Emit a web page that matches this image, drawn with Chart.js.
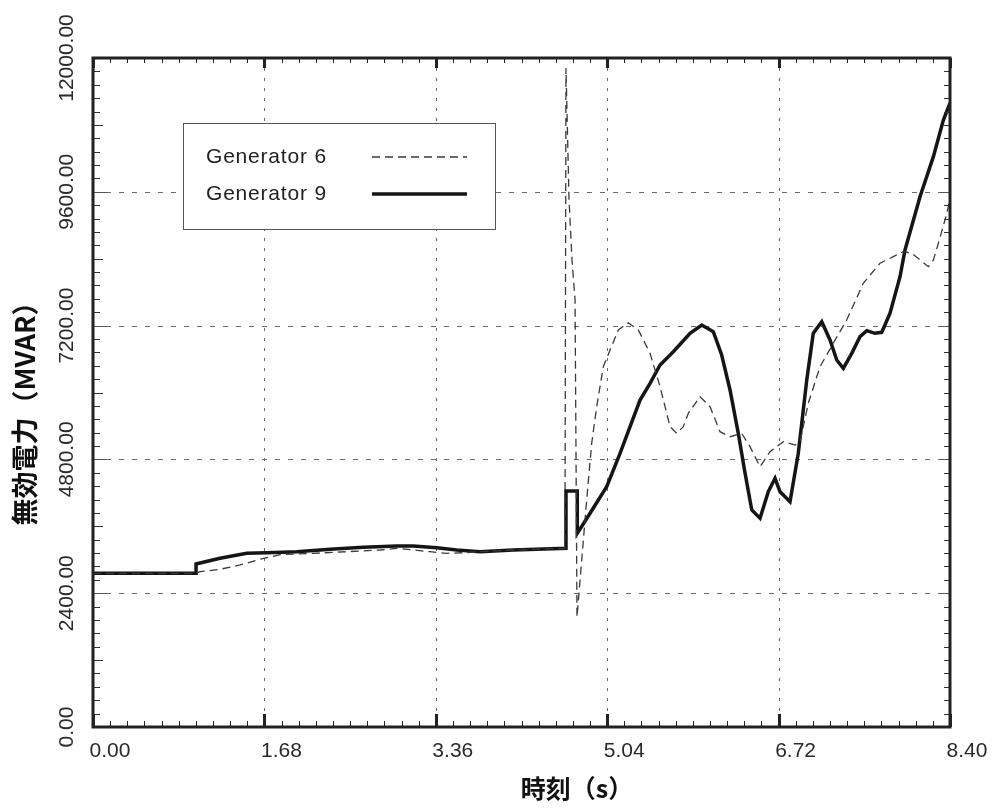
<!DOCTYPE html>
<html>
<head>
<meta charset="utf-8">
<script src="https://cdn.jsdelivr.net/npm/chart.js@4.4.1/dist/chart.umd.min.js"></script>
<style>
  html, body { margin: 0; padding: 0; background: #fff; }
  #wrap { width: 996px; height: 809px; }
</style>
</head>
<body>
<div id="wrap"><canvas id="chartQ" width="996" height="809"></canvas></div>
<script>
// 無効電力 - 読み取り値 (時刻 s, MVAR)
const seriesNames = ['Generator 6', 'Generator 9'];

const gen6Time = [0, 1.01, 1.049, 1.245, 1.441, 1.637, 1.833, 2.159, 2.487, 2.813,
  2.977, 3.140, 3.303, 3.467, 3.630, 3.793, 4.120, 4.626, 4.636, 4.666,
  4.695, 4.725, 4.744, 4.839, 4.888, 4.937, 5.002, 5.068, 5.149, 5.247,
  5.345, 5.460, 5.558, 5.656, 5.721, 5.786, 5.835, 5.950, 6.048, 6.146,
  6.244, 6.358, 6.440, 6.538, 6.636, 6.766, 6.881, 6.930, 7.011, 7.126,
  7.256, 7.387, 7.550, 7.714, 7.942, 8.025, 8.106, 8.188, 8.237, 8.286,
  8.351, 8.384, 8.400];
const gen6Mvar = [2757, 2757, 2786, 2829, 2906, 3008, 3091, 3116, 3144, 3175,
  3205, 3175, 3144, 3116, 3126, 3144, 3175, 3205, 11821, 9453,
  8377, 7659, 1973, 4072, 5089, 5745, 6463, 6762, 7121, 7252,
  7121, 6703, 6104, 5387, 5268, 5387, 5627, 5925, 5745, 5297,
  5207, 5268, 5028, 4669, 4938, 5118, 5058, 5118, 5806, 6463,
  6883, 7300, 7959, 8318, 8526, 8497, 8377, 8257, 8377, 8677,
  9094, 9333, 9512];

const gen9Time = [0, 1.01, 1.01, 1.245, 1.507, 1.703, 1.997, 2.323, 2.650, 2.977,
  3.140, 3.369, 3.565, 3.793, 4.120, 4.636, 4.636, 4.747, 4.747, 4.872,
  5.035, 5.166, 5.264, 5.362, 5.460, 5.558, 5.688, 5.852, 5.967, 6.080,
  6.162, 6.244, 6.325, 6.391, 6.457, 6.538, 6.619, 6.685, 6.734, 6.832,
  6.913, 6.996, 7.060, 7.143, 7.224, 7.290, 7.354, 7.437, 7.518, 7.584,
  7.665, 7.731, 7.812, 7.910, 7.959, 8.106, 8.237, 8.335, 8.400];
const gen9Mvar = [2757, 2757, 2924, 3026, 3116, 3126, 3144, 3187, 3223, 3247,
  3247, 3216, 3175, 3144, 3175, 3205, 4233, 4233, 3474, 3833,
  4310, 4909, 5387, 5865, 6165, 6493, 6732, 7062, 7211, 7091,
  6673, 6045, 5268, 4556, 3892, 3744, 4221, 4461, 4221, 4041,
  4909, 6224, 7062, 7270, 6942, 6583, 6434, 6703, 7001, 7109,
  7062, 7080, 7421, 8077, 8556, 9512, 10230, 10888, 11188];

const xTickValues = [0, 1.68, 3.36, 5.04, 6.72, 8.40];
const yTickValues = [0, 2400, 4800, 7200, 9600, 12000];
const xTitle = '時刻（s）';
const yTitle = '無効電力（MVAR）';

function toPoints(ts, vs) {
  return ts.map((t, i) => ({ x: t, y: vs[i] }));
}

// 枠・目盛・グリッド・凡例は自前で描く
const framePlugin = {
  id: 'frame',
  beforeDatasetsDraw(chart) {
    const { ctx, chartArea: a, scales: { x, y } } = chart;
    ctx.save();
    ctx.strokeStyle = '#6a6a6a';
    ctx.lineWidth = 1;
    ctx.setLineDash([3, 7]);
    xTickValues.slice(1, -1).forEach(v => {
      const px = Math.round(x.getPixelForValue(v)) + 0.5;
      ctx.beginPath(); ctx.moveTo(px, a.top); ctx.lineTo(px, a.bottom); ctx.stroke();
    });
    ctx.setLineDash([5, 8]);
    yTickValues.slice(1, -1).forEach(v => {
      const py = Math.round(y.getPixelForValue(v)) + 0.5;
      ctx.beginPath(); ctx.moveTo(a.left, py); ctx.lineTo(a.right, py); ctx.stroke();
    });
    ctx.restore();
  },
  afterDatasetsDraw(chart) {
    const { ctx, chartArea: a, scales: { x, y } } = chart;
    ctx.save();
    ctx.setLineDash([]);
    ctx.strokeStyle = '#222';

    // 副目盛
    const xStep = 0.168, yStep = 240;
    for (let i = 0; i <= 50; i++) {
      const px = Math.round(x.getPixelForValue(i * xStep)) + 0.5;
      const major = i % 10 === 0;
      ctx.lineWidth = major ? 3 : 1;
      const len = major ? 13 : 6;
      ctx.beginPath();
      ctx.moveTo(px, a.bottom); ctx.lineTo(px, a.bottom - len);
      ctx.moveTo(px, a.top); ctx.lineTo(px, a.top + (major ? 10 : 5));
      ctx.stroke();
    }
    for (let i = 0; i <= 50; i++) {
      const py = Math.round(y.getPixelForValue(i * yStep)) + 0.5;
      const major = i % 10 === 0, mid = i % 5 === 0;
      ctx.lineWidth = 1;
      ctx.strokeStyle = major ? '#555' : '#333';
      const len = major ? 14 : (mid ? 10 : 7);
      ctx.beginPath();
      ctx.moveTo(a.left, py); ctx.lineTo(a.left + len, py);
      ctx.moveTo(a.right, py); ctx.lineTo(a.right - (major ? 10 : 6), py);
      ctx.stroke();
    }

    // 枠
    ctx.strokeStyle = '#222';
    ctx.lineWidth = 3;
    ctx.strokeRect(a.left, a.top, a.right - a.left, a.bottom - a.top);

    // 目盛ラベル
    ctx.fillStyle = '#2a2a2a';
    ctx.font = '21px "Liberation Sans", Arial, sans-serif';
    ctx.textAlign = 'center';
    ctx.textBaseline = 'middle';
    xTickValues.forEach(v => {
      ctx.fillText(v.toFixed(2), x.getPixelForValue(v) + 17, a.bottom + 24);
    });
    yTickValues.forEach(v => {
      ctx.save();
      ctx.translate(a.left - 26, y.getPixelForValue(v));
      ctx.rotate(-Math.PI / 2);
      ctx.fillText(v.toFixed(2), 0, 0);
      ctx.restore();
    });

    // 軸タイトル
    ctx.fillStyle = '#111';
    ctx.font = 'bold 25px "Noto Sans CJK JP", sans-serif';
    ctx.fillText(xTitle, a.left + 484, a.bottom + 61);
    ctx.font = 'bold 27px "Noto Sans CJK JP", sans-serif';
    ctx.save();
    ctx.translate(a.left - 68, a.top + 349);
    ctx.rotate(-Math.PI / 2);
    ctx.fillText(yTitle, 0, 0);
    ctx.restore();

    // 凡例
    const bx = a.left + 90, by = a.top + 65, bw = 312, bh = 106;
    ctx.fillStyle = '#fff';
    ctx.fillRect(bx, by, bw, bh);
    ctx.strokeStyle = '#555';
    ctx.lineWidth = 1;
    ctx.strokeRect(bx + 0.5, by + 0.5, bw, bh);
    ctx.font = '21px "Liberation Sans", Arial, sans-serif';
    ctx.textAlign = 'left';
    ctx.fillStyle = '#222';
    if ('letterSpacing' in ctx) ctx.letterSpacing = '0.8px';
    chart.data.datasets.forEach((ds, i) => {
      const ly = by + 34 + i * 37;
      ctx.fillText(ds.label, bx + 23, ly);
      ctx.save();
      ctx.strokeStyle = ds.borderColor;
      ctx.lineWidth = ds.borderWidth;
      ctx.setLineDash(ds.borderDash || []);
      ctx.beginPath();
      ctx.moveTo(bx + 189, ly); ctx.lineTo(bx + 284, ly);
      ctx.stroke();
      ctx.restore();
    });
    ctx.restore();
  }
};

new Chart(document.getElementById('chartQ'), {
  type: 'line',
  data: {
    datasets: [
      {
        label: seriesNames[0],
        data: toPoints(gen6Time, gen6Mvar),
        borderColor: '#3a3a3a',
        borderWidth: 1.3,
        borderDash: [8, 5],
        pointRadius: 0,
        tension: 0,
        fill: false
      },
      {
        label: seriesNames[1],
        data: toPoints(gen9Time, gen9Mvar),
        borderColor: '#151515',
        borderWidth: 3.5,
        pointRadius: 0,
        tension: 0,
        fill: false
      }
    ]
  },
  options: {
    responsive: false,
    animation: false,
    devicePixelRatio: 1,
    layout: { padding: { left: 93, right: 46, top: 58, bottom: 82 } },
    plugins: {
      legend: { display: false },
      tooltip: { enabled: false }
    },
    scales: {
      x: { type: 'linear', min: 0, max: 8.4, display: false },
      y: { min: 0, max: 12000, display: false }
    }
  },
  plugins: [framePlugin]
});
</script>
</body>
</html>
